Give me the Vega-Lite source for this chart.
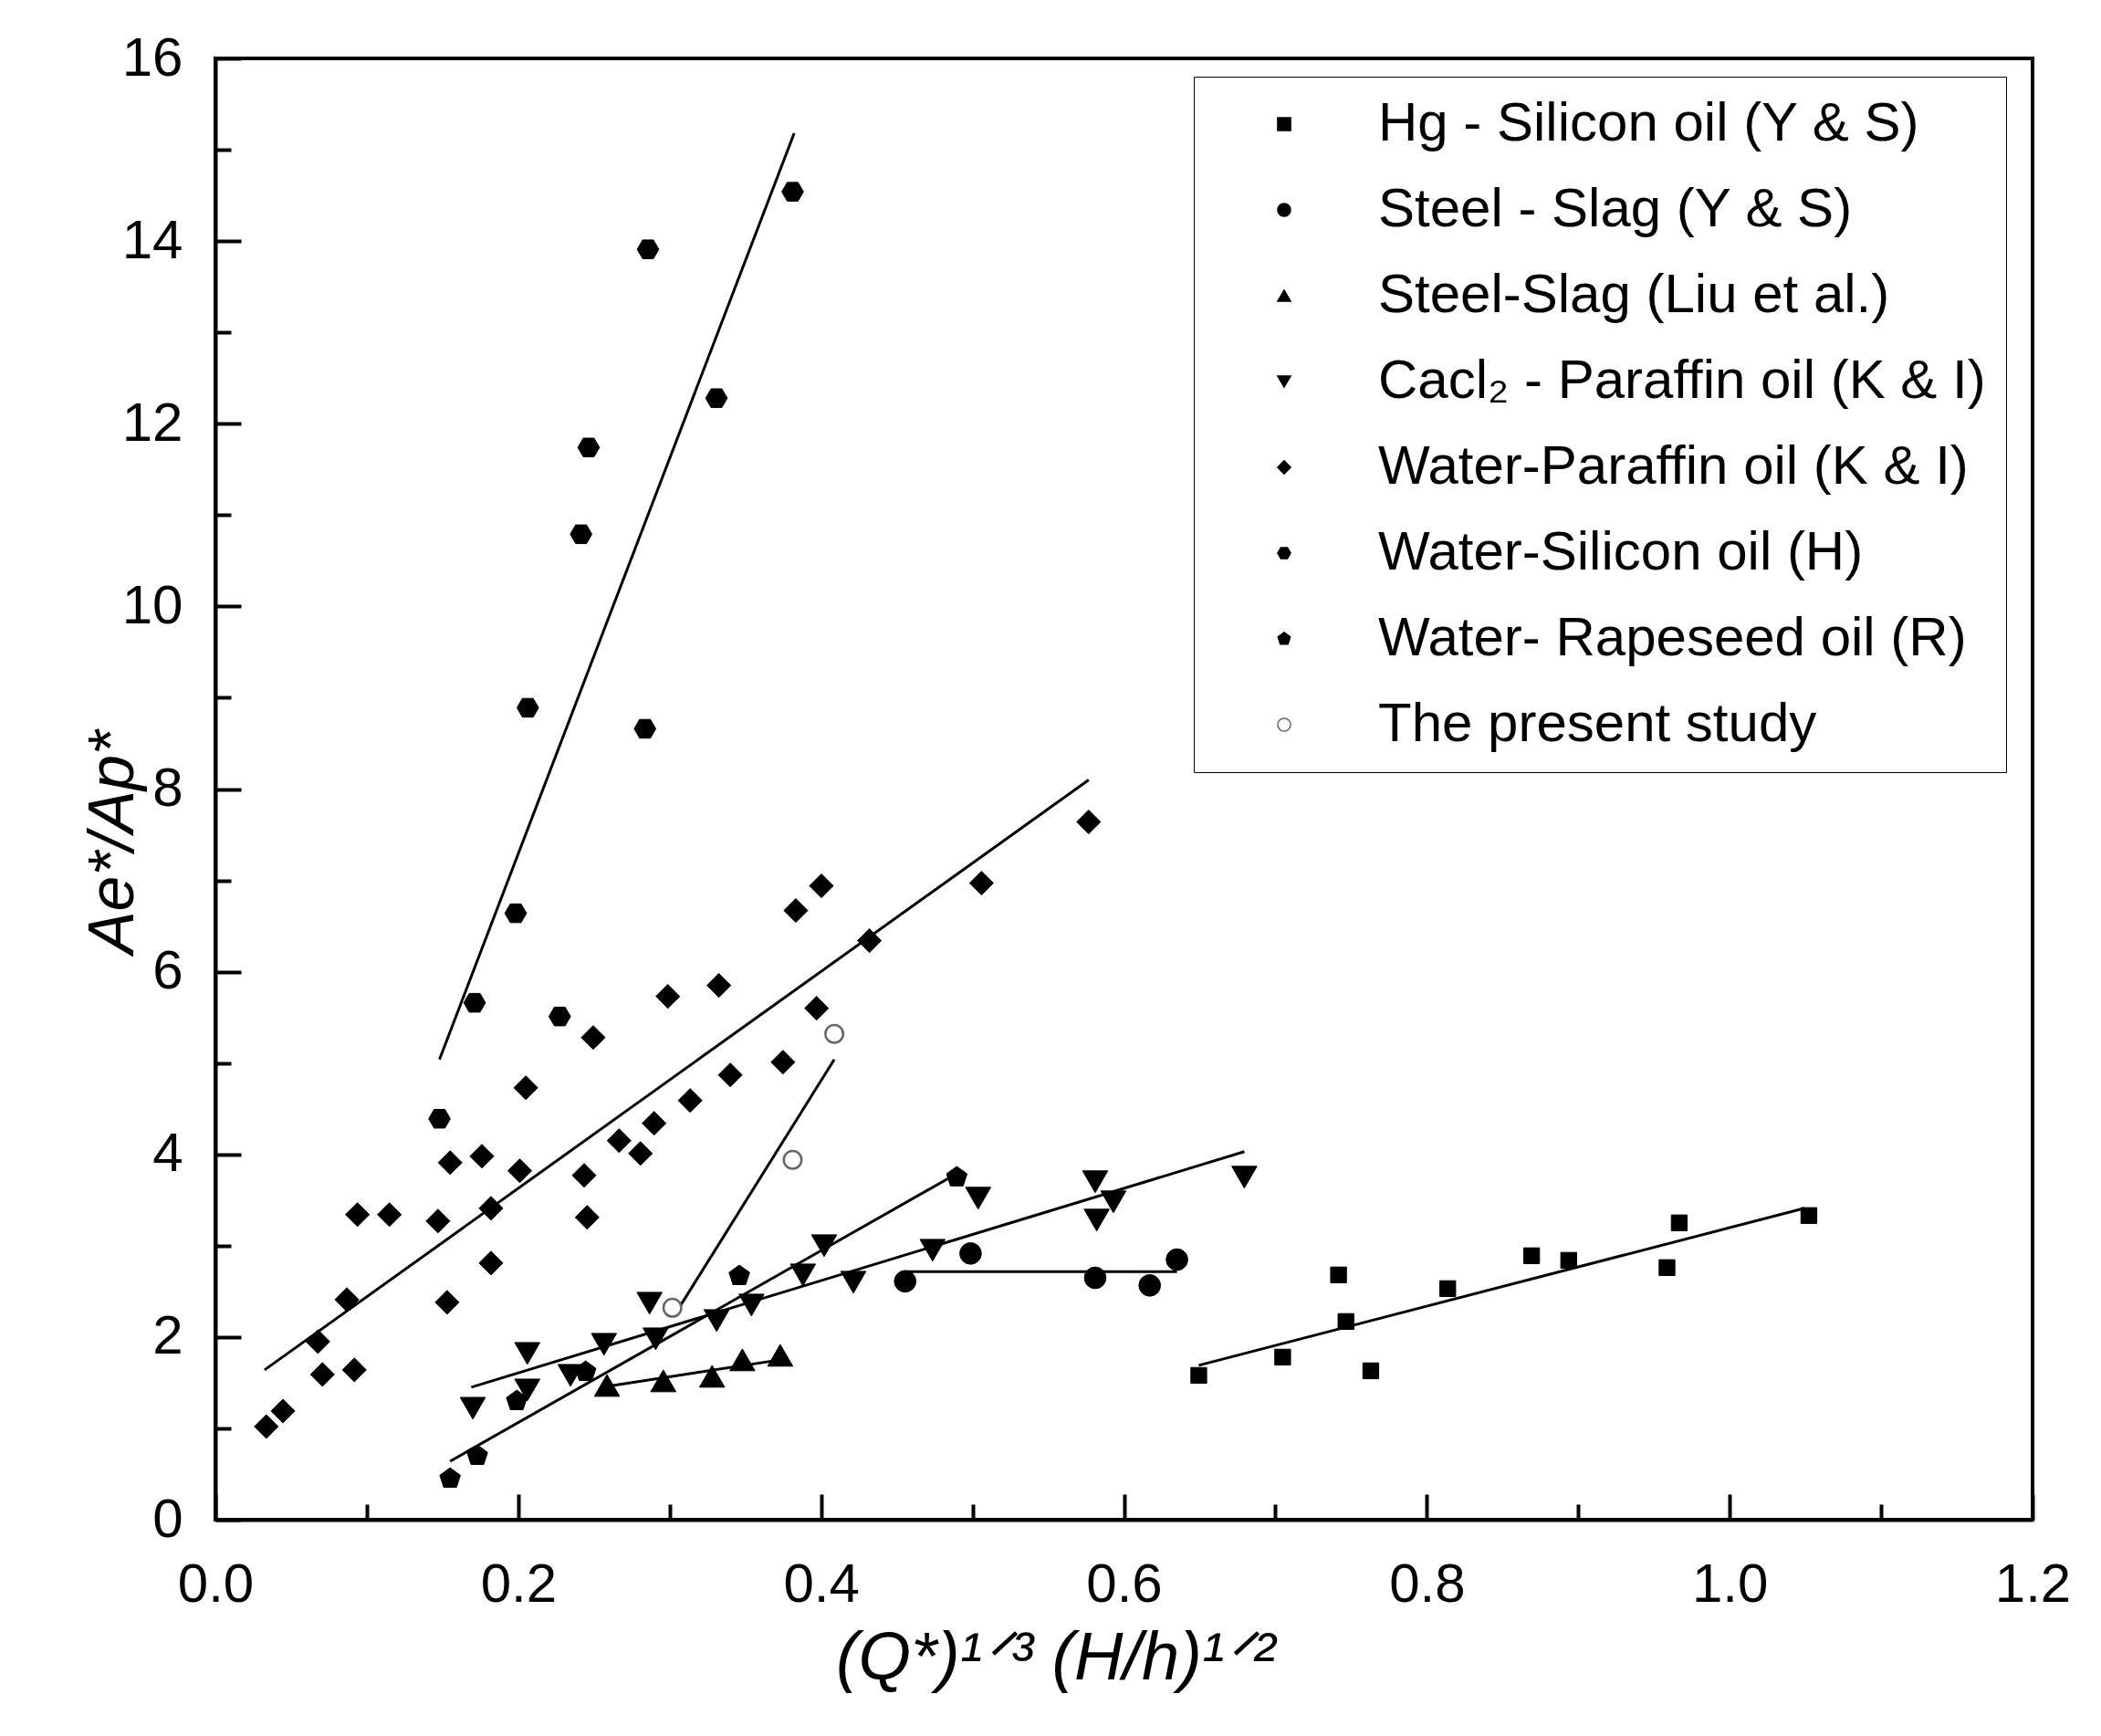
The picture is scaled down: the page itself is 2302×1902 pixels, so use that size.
{
  "$schema": "https://vega.github.io/schema/vega-lite/v6.json",
  "width": 1991,
  "height": 1601,
  "autosize": "none",
  "padding": {"left": 236, "top": 64, "right": 75, "bottom": 237},
  "background": "white",
  "config": {
    "view": {"stroke": "black", "strokeWidth": 4},
    "font": "Liberation Sans",
    "axis": {
      "labelFont": "Liberation Sans",
      "titleFont": "Liberation Sans",
      "labelColor": "black",
      "titleColor": "black",
      "domainColor": "black",
      "domainWidth": 4,
      "tickColor": "black",
      "tickWidth": 4,
      "grid": false,
      "labelFontSize": 60,
      "titleFontSize": 70,
      "titleFontWeight": "normal",
      "titleFontStyle": "italic"
    },
    "legend": {
      "labelFont": "Liberation Sans",
      "labelFontSize": 60,
      "labelColor": "black",
      "labelLimit": 2000,
      "strokeColor": "black",
      "padding": 22,
      "symbolOffset": 47,
      "labelOffset": 73,
      "rowPadding": 34,
      "symbolSize": 200,
      "symbolStrokeWidth": 1.5
    }
  },
  "datasets": {
    "points": [
      {"s": "Hg - Silicon oil (Y & S)", "x": 0.6494, "y": 1.58},
      {"s": "Hg - Silicon oil (Y & S)", "x": 0.7048, "y": 1.78},
      {"s": "Hg - Silicon oil (Y & S)", "x": 0.7417, "y": 2.68},
      {"s": "Hg - Silicon oil (Y & S)", "x": 0.7466, "y": 2.17},
      {"s": "Hg - Silicon oil (Y & S)", "x": 0.763, "y": 1.63},
      {"s": "Hg - Silicon oil (Y & S)", "x": 0.8138, "y": 2.53},
      {"s": "Hg - Silicon oil (Y & S)", "x": 0.8692, "y": 2.89},
      {"s": "Hg - Silicon oil (Y & S)", "x": 0.8937, "y": 2.84},
      {"s": "Hg - Silicon oil (Y & S)", "x": 0.9586, "y": 2.76},
      {"s": "Hg - Silicon oil (Y & S)", "x": 0.9667, "y": 3.25},
      {"s": "Hg - Silicon oil (Y & S)", "x": 1.0523, "y": 3.33},
      {"s": "Steel - Slag (Y & S)", "x": 0.4555, "y": 2.61},
      {"s": "Steel - Slag (Y & S)", "x": 0.4987, "y": 2.915},
      {"s": "Steel - Slag (Y & S)", "x": 0.581, "y": 2.648},
      {"s": "Steel - Slag (Y & S)", "x": 0.617, "y": 2.565},
      {"s": "Steel - Slag (Y & S)", "x": 0.635, "y": 2.848},
      {"s": "Steel-Slag (Liu et al.)", "x": 0.2586, "y": 1.47},
      {"s": "Steel-Slag (Liu et al.)", "x": 0.2958, "y": 1.52},
      {"s": "Steel-Slag (Liu et al.)", "x": 0.328, "y": 1.57},
      {"s": "Steel-Slag (Liu et al.)", "x": 0.348, "y": 1.75},
      {"s": "Steel-Slag (Liu et al.)", "x": 0.373, "y": 1.8},
      {"s": "Cacl₂ - Paraffin oil (K & I)", "x": 0.17, "y": 1.22},
      {"s": "Cacl₂ - Paraffin oil (K & I)", "x": 0.206, "y": 1.42},
      {"s": "Cacl₂ - Paraffin oil (K & I)", "x": 0.206, "y": 1.82},
      {"s": "Cacl₂ - Paraffin oil (K & I)", "x": 0.2345, "y": 1.58},
      {"s": "Cacl₂ - Paraffin oil (K & I)", "x": 0.2566, "y": 1.92},
      {"s": "Cacl₂ - Paraffin oil (K & I)", "x": 0.2867, "y": 2.37},
      {"s": "Cacl₂ - Paraffin oil (K & I)", "x": 0.2907, "y": 1.98},
      {"s": "Cacl₂ - Paraffin oil (K & I)", "x": 0.331, "y": 2.18},
      {"s": "Cacl₂ - Paraffin oil (K & I)", "x": 0.354, "y": 2.35},
      {"s": "Cacl₂ - Paraffin oil (K & I)", "x": 0.388, "y": 2.68},
      {"s": "Cacl₂ - Paraffin oil (K & I)", "x": 0.402, "y": 3.0},
      {"s": "Cacl₂ - Paraffin oil (K & I)", "x": 0.4213, "y": 2.6},
      {"s": "Cacl₂ - Paraffin oil (K & I)", "x": 0.4736, "y": 2.95},
      {"s": "Cacl₂ - Paraffin oil (K & I)", "x": 0.5037, "y": 3.52},
      {"s": "Cacl₂ - Paraffin oil (K & I)", "x": 0.581, "y": 3.7},
      {"s": "Cacl₂ - Paraffin oil (K & I)", "x": 0.593, "y": 3.48},
      {"s": "Cacl₂ - Paraffin oil (K & I)", "x": 0.582, "y": 3.28},
      {"s": "Cacl₂ - Paraffin oil (K & I)", "x": 0.6795, "y": 3.75},
      {"s": "Water-Paraffin oil (K & I)", "x": 0.0336, "y": 1.02},
      {"s": "Water-Paraffin oil (K & I)", "x": 0.0446, "y": 1.19},
      {"s": "Water-Paraffin oil (K & I)", "x": 0.0677, "y": 1.95},
      {"s": "Water-Paraffin oil (K & I)", "x": 0.0707, "y": 1.59},
      {"s": "Water-Paraffin oil (K & I)", "x": 0.0918, "y": 1.64},
      {"s": "Water-Paraffin oil (K & I)", "x": 0.0868, "y": 2.41},
      {"s": "Water-Paraffin oil (K & I)", "x": 0.0938, "y": 3.34},
      {"s": "Water-Paraffin oil (K & I)", "x": 0.1149, "y": 3.34},
      {"s": "Water-Paraffin oil (K & I)", "x": 0.147, "y": 3.27},
      {"s": "Water-Paraffin oil (K & I)", "x": 0.153, "y": 2.38},
      {"s": "Water-Paraffin oil (K & I)", "x": 0.155, "y": 3.91},
      {"s": "Water-Paraffin oil (K & I)", "x": 0.176, "y": 3.98},
      {"s": "Water-Paraffin oil (K & I)", "x": 0.182, "y": 3.41},
      {"s": "Water-Paraffin oil (K & I)", "x": 0.182, "y": 2.81},
      {"s": "Water-Paraffin oil (K & I)", "x": 0.201, "y": 3.82},
      {"s": "Water-Paraffin oil (K & I)", "x": 0.205, "y": 4.73},
      {"s": "Water-Paraffin oil (K & I)", "x": 0.2435, "y": 3.77},
      {"s": "Water-Paraffin oil (K & I)", "x": 0.2455, "y": 3.31},
      {"s": "Water-Paraffin oil (K & I)", "x": 0.2495, "y": 5.28},
      {"s": "Water-Paraffin oil (K & I)", "x": 0.2666, "y": 4.15},
      {"s": "Water-Paraffin oil (K & I)", "x": 0.2807, "y": 4.01},
      {"s": "Water-Paraffin oil (K & I)", "x": 0.2897, "y": 4.34},
      {"s": "Water-Paraffin oil (K & I)", "x": 0.2988, "y": 5.73},
      {"s": "Water-Paraffin oil (K & I)", "x": 0.3135, "y": 4.59},
      {"s": "Water-Paraffin oil (K & I)", "x": 0.3325, "y": 5.85},
      {"s": "Water-Paraffin oil (K & I)", "x": 0.34, "y": 4.87},
      {"s": "Water-Paraffin oil (K & I)", "x": 0.3748, "y": 5.01},
      {"s": "Water-Paraffin oil (K & I)", "x": 0.3833, "y": 6.67},
      {"s": "Water-Paraffin oil (K & I)", "x": 0.397, "y": 5.6},
      {"s": "Water-Paraffin oil (K & I)", "x": 0.4002, "y": 6.94},
      {"s": "Water-Paraffin oil (K & I)", "x": 0.4319, "y": 6.34},
      {"s": "Water-Paraffin oil (K & I)", "x": 0.5059, "y": 6.97},
      {"s": "Water-Paraffin oil (K & I)", "x": 0.5767, "y": 7.64},
      {"s": "Water-Silicon oil (H)", "x": 0.148, "y": 4.39},
      {"s": "Water-Silicon oil (H)", "x": 0.1712, "y": 5.66},
      {"s": "Water-Silicon oil (H)", "x": 0.1983, "y": 6.64},
      {"s": "Water-Silicon oil (H)", "x": 0.2274, "y": 5.51},
      {"s": "Water-Silicon oil (H)", "x": 0.2063, "y": 8.89},
      {"s": "Water-Silicon oil (H)", "x": 0.2415, "y": 10.79},
      {"s": "Water-Silicon oil (H)", "x": 0.2465, "y": 11.74},
      {"s": "Water-Silicon oil (H)", "x": 0.2837, "y": 8.66},
      {"s": "Water-Silicon oil (H)", "x": 0.2857, "y": 13.91},
      {"s": "Water-Silicon oil (H)", "x": 0.3309, "y": 12.28},
      {"s": "Water-Silicon oil (H)", "x": 0.3812, "y": 14.54},
      {"s": "Water- Rapeseed oil (R)", "x": 0.155, "y": 0.45},
      {"s": "Water- Rapeseed oil (R)", "x": 0.173, "y": 0.7},
      {"s": "Water- Rapeseed oil (R)", "x": 0.199, "y": 1.3},
      {"s": "Water- Rapeseed oil (R)", "x": 0.2445, "y": 1.62},
      {"s": "Water- Rapeseed oil (R)", "x": 0.346, "y": 2.67},
      {"s": "Water- Rapeseed oil (R)", "x": 0.4896, "y": 3.75},
      {"s": "The present study", "x": 0.3018, "y": 2.32},
      {"s": "The present study", "x": 0.3812, "y": 3.94},
      {"s": "The present study", "x": 0.4087, "y": 5.32}
    ],
    "fits": [
      {"s": "Hg - Silicon oil (Y & S)", "x": 0.6494, "y": 1.69},
      {"s": "Hg - Silicon oil (Y & S)", "x": 1.0494, "y": 3.41},
      {"s": "Steel - Slag (Y & S)", "x": 0.4555, "y": 2.715},
      {"s": "Steel - Slag (Y & S)", "x": 0.635, "y": 2.715},
      {"s": "Steel-Slag (Liu et al.)", "x": 0.2546, "y": 1.45},
      {"s": "Steel-Slag (Liu et al.)", "x": 0.377, "y": 1.76},
      {"s": "Cacl₂ - Paraffin oil (K & I)", "x": 0.169, "y": 1.45},
      {"s": "Cacl₂ - Paraffin oil (K & I)", "x": 0.6795, "y": 4.03},
      {"s": "Water-Paraffin oil (K & I)", "x": 0.0325, "y": 1.64},
      {"s": "Water-Paraffin oil (K & I)", "x": 0.5767, "y": 8.1},
      {"s": "Water-Silicon oil (H)", "x": 0.148, "y": 5.04},
      {"s": "Water-Silicon oil (H)", "x": 0.3822, "y": 15.18},
      {"s": "Water- Rapeseed oil (R)", "x": 0.155, "y": 0.64},
      {"s": "Water- Rapeseed oil (R)", "x": 0.4886, "y": 3.78},
      {"s": "The present study", "x": 0.3028, "y": 2.23},
      {"s": "The present study", "x": 0.4087, "y": 5.04}
    ]
  },
  "layer": [
    {
      "data": {"name": "fits"},
      "mark": {"type": "line", "color": "black", "strokeWidth": 3},
      "encoding": {
        "x": {
          "field": "x",
          "type": "quantitative",
          "scale": {"domain": [0, 1.2], "nice": false, "zero": false},
          "axis": {
            "title": "(Q*)¹ᐟ³ (H/h)¹ᐟ²",
            "titleFontSize": 74,
            "values": [0, 0.1, 0.2, 0.3, 0.4, 0.5, 0.6, 0.7, 0.8, 0.9, 1.0, 1.1, 1.2],
            "labelExpr": "round(datum.value * 10) % 2 === 0 ? format(datum.value, '.1f') : ''",
            "tickSize": {"condition": {"test": "round(datum.value * 10) % 2 === 0", "value": -28}, "value": -17},
            "labelPadding": 70,
            "labelFlush": false,
            "labelOverlap": false,
            "titlePadding": 4,
            "titleX": 920
          }
        },
        "y": {
          "field": "y",
          "type": "quantitative",
          "scale": {"domain": [0, 16], "nice": false},
          "axis": {
            "title": "Ae*/Ap*",
            "values": [0, 1, 2, 3, 4, 5, 6, 7, 8, 9, 10, 11, 12, 13, 14, 15, 16],
            "labelExpr": "datum.value % 2 === 0 ? format(datum.value, 'd') : ''",
            "tickSize": {"condition": {"test": "datum.value % 2 === 0", "value": -28}, "value": -17},
            "labelPadding": 64,
            "labelFlush": false,
            "labelOverlap": false,
            "titlePadding": -27,
            "titleY": 858
          }
        },
        "detail": {"field": "s"}
      }
    },
    {
      "data": {"name": "points"},
      "encoding": {
        "x": {"field": "x", "type": "quantitative"},
        "y": {"field": "y", "type": "quantitative"},
        "shape": {
          "field": "s",
          "type": "nominal",
          "scale": {
            "domain": ["Hg - Silicon oil (Y & S)", "Steel - Slag (Y & S)", "Steel-Slag (Liu et al.)", "Cacl₂ - Paraffin oil (K & I)", "Water-Paraffin oil (K & I)", "Water-Silicon oil (H)", "Water- Rapeseed oil (R)", "The present study"],
            "range": ["square", "circle", "triangle-up", "triangle-down", "diamond", "M-1,0L-0.5,-0.866L0.5,-0.866L1,0L0.5,0.866L-0.5,0.866Z", "M0,-1L0.951,-0.309L0.588,0.809L-0.588,0.809L-0.951,-0.309Z", "circle"]
          },
          "legend": {"title": null, "orient": "none", "legendX": 1072, "legendY": 20}
        },
        "fill": {
          "field": "s",
          "type": "nominal",
          "scale": {
            "domain": ["Hg - Silicon oil (Y & S)", "Steel - Slag (Y & S)", "Steel-Slag (Liu et al.)", "Cacl₂ - Paraffin oil (K & I)", "Water-Paraffin oil (K & I)", "Water-Silicon oil (H)", "Water- Rapeseed oil (R)", "The present study"],
            "range": ["black", "black", "black", "black", "black", "black", "black", "white"]
          },
          "legend": {"title": null, "orient": "none", "legendX": 1072, "legendY": 20}
        },
        "stroke": {
          "field": "s",
          "type": "nominal",
          "scale": {
            "domain": ["Hg - Silicon oil (Y & S)", "Steel - Slag (Y & S)", "Steel-Slag (Liu et al.)", "Cacl₂ - Paraffin oil (K & I)", "Water-Paraffin oil (K & I)", "Water-Silicon oil (H)", "Water- Rapeseed oil (R)", "The present study"],
            "range": ["black", "black", "black", "black", "black", "black", "black", "#666666"]
          },
          "legend": {"title": null, "orient": "none", "legendX": 1072, "legendY": 20}
        }
      },
      "layer": [
        {
          "transform": [{"filter": "datum.s === 'Hg - Silicon oil (Y & S)'"}],
          "mark": {"type": "point", "filled": true, "size": 300, "strokeWidth": 1, "opacity": 1}
        },
        {
          "transform": [{"filter": "datum.s === 'Water-Paraffin oil (K & I)'"}],
          "mark": {"type": "point", "filled": true, "size": 680, "strokeWidth": 1, "opacity": 1}
        },
        {
          "transform": [{"filter": "datum.s === 'Steel-Slag (Liu et al.)' || datum.s === 'Cacl₂ - Paraffin oil (K & I)'"}],
          "mark": {"type": "point", "filled": true, "size": 760, "strokeWidth": 1, "opacity": 1}
        },
        {
          "transform": [{"filter": "datum.s === 'The present study'"}],
          "mark": {"type": "point", "filled": true, "size": 380, "strokeWidth": 2.5, "opacity": 1}
        },
        {
          "transform": [{"filter": "datum.s === 'Steel - Slag (Y & S)' || datum.s === 'Water-Silicon oil (H)' || datum.s === 'Water- Rapeseed oil (R)'"}],
          "mark": {"type": "point", "filled": true, "size": 560, "strokeWidth": 1, "opacity": 1}
        }
      ]
    }
  ]
}
